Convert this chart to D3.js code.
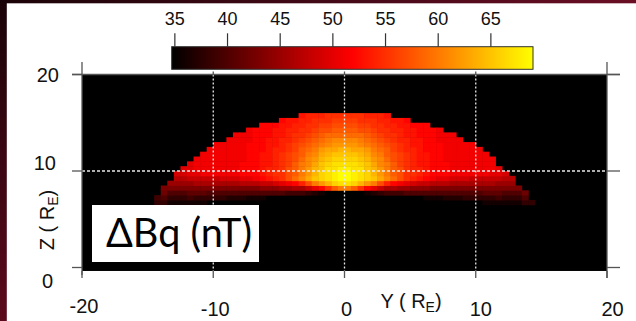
<!DOCTYPE html>
<html><head><meta charset="utf-8">
<script src="https://cdn.jsdelivr.net/npm/d3@7"></script>
<style>html,body{margin:0;padding:0;background:#fff;overflow:hidden}</style>
</head><body>
<svg id="c" width="636" height="321"></svg>
<script>
// ---------------- data ----------------
const colY = [-14.75,-14.25,-13.75,-13.25,-12.75,-12.25,-11.75,-11.25,-10.75,-10.25,-9.75,-9.25,-8.75,-8.25,-7.75,-7.25,-6.75,-6.25,-5.75,-5.25,-4.75,-4.25,-3.75,-3.25,-2.75,-2.25,-1.75,-1.25,-0.75,-0.25,
              0.25,0.75,1.25,1.75,2.25,2.75,3.25,3.75,4.25,4.75,5.25,5.75,6.25,6.75,7.25,7.75,8.25,8.75,9.25,9.75,10.25,10.75,11.25,11.75,12.25,12.75,13.25,13.75,14.25,14.75];
const rowZ = [6.25,6.75,7.25,7.75,8.25,8.75,9.25,9.75,10.25,10.75,11.25,11.75,12.25,12.75,13.25,13.75,14.25,14.75,15.25,15.75];
// ΔBq (nT) per column (bottom row first); 0 = no field (black)
const colValues = [
"",
"0 38 39",
"0 38 40 42 43",
"0 36 38 40 43 45",
"0 36 38 40 43 45 47 49",
"0 36 38 40 43 45 47 49 50",
"0 36 39 41 43 45 48 50 50 50",
"0 36 38 41 43 46 48 50 51 51 51",
"0 36 38 41 43 46 48 51 51 51 51 51",
"0 0 38 40 43 46 48 51 51 51 51 51 51",
"0 0 38 40 43 46 48 51 51 51 51 51 51 51",
"0 0 38 40 43 46 49 51 51 51 51 51 51 51",
"0 0 37 40 43 46 49 51 51 51 51 51 51 51 51",
"0 0 37 40 43 46 49 51 51 51 51 51 51 51 51 51",
"0 0 37 40 43 47 50 52 52 52 51 51 51 51 51 51",
"0 0 36 40 43 47 50 52 52 52 52 52 52 52 51 51 51",
"0 0 36 40 43 47 51 52 52 52 52 52 52 52 52 52 52",
"0 0 36 40 44 48 52 53 53 53 53 53 52 52 52 52 52 52",
"0 0 0 40 44 48 53 54 54 53 53 53 53 53 53 52 52 52",
"0 0 0 40 44 49 54 55 54 54 54 54 54 53 53 53 53 52",
"0 0 0 40 45 50 55 55 55 55 55 55 54 54 54 53 53 53 52",
"0 0 0 39 45 51 57 57 57 56 56 56 55 55 54 54 54 53 53",
"0 0 0 39 46 52 59 58 58 58 57 57 56 56 55 55 54 54 53",
"0 0 0 39 46 54 61 60 60 60 59 58 58 57 56 55 55 54 54 53",
"0 0 0 38 48 57 63 62 62 61 61 60 59 58 57 56 55 55 54 54",
"0 0 0 37 50 60 65 64 64 63 62 61 60 59 58 57 56 55 55 54",
"0 0 0 36 52 62 66 66 65 65 64 63 62 60 59 58 57 56 55 54",
"0 0 0 0 55 64 67 67 67 66 65 64 63 61 60 59 57 56 55 55",
"0 0 0 0 58 66 68 68 67 67 66 65 63 62 61 59 58 57 56 55",
"0 0 0 0 60 67 69 69 68 67 66 65 64 62 61 59 58 57 56 55",
"0 0 0 0 60 67 69 69 68 67 66 65 64 62 61 59 58 57 56 55",
"0 0 0 0 58 66 68 68 67 67 66 65 63 62 61 59 58 57 56 55",
"0 0 0 0 55 64 67 67 67 66 65 64 63 61 60 59 57 56 55 55",
"0 0 0 36 52 62 66 66 65 65 64 63 62 60 59 58 57 56 55 54",
"0 0 0 37 50 60 65 64 64 63 62 61 60 59 58 57 56 55 55 54",
"0 0 0 38 48 57 63 62 62 61 61 60 59 58 57 56 55 55 54 54",
"0 0 0 39 46 54 61 60 60 60 59 58 58 57 56 55 55 54 54 53",
"0 0 0 39 46 52 59 58 58 58 57 57 56 56 55 55 54 54 53",
"0 0 0 39 45 51 57 57 57 56 56 56 55 55 54 54 54 53 53",
"0 0 0 40 45 50 55 55 55 55 55 55 54 54 54 53 53 53 52",
"0 0 0 40 44 49 54 55 54 54 54 54 54 53 53 53 53 52",
"0 0 0 40 44 48 53 54 54 53 53 53 53 53 53 52 52 52",
"0 0 36 40 44 48 52 53 53 53 53 53 52 52 52 52 52 52",
"0 0 36 40 43 47 51 52 52 52 52 52 52 52 52 52 52",
"0 0 36 40 43 47 50 52 52 52 52 52 52 52 51 51 51",
"0 0 37 40 43 47 50 52 52 52 51 51 51 51 51 51",
"0 0 37 40 43 46 49 51 51 51 51 51 51 51 51 51",
"0 0 37 40 43 46 49 51 51 51 51 51 51 51 51",
"0 0 38 40 43 46 49 51 51 51 51 51 51 51",
"0 0 38 40 43 46 48 51 51 51 51 51 51 51",
"0 0 38 40 43 46 48 51 51 51 51 51 51",
"0 36 38 41 43 46 48 51 51 51 51 51",
"0 36 38 41 43 46 48 50 51 51 51",
"0 36 39 41 43 45 48 50 50",
"0 36 38 40 43 45 47 49",
"0 36 38 40 43 45 47",
"0 36 38 40 43",
"0 38 40 42",
"0 38",
""
];
const colorStops = [34.7, 51.8, 69.0];
const colorRange = ["#000000", "#ff0000", "#ffff00"];
const cbTicks = [35, 40, 45, 50, 55, 60, 65];
const xTicks = [-20, -10, 0, 10, 20];
const zTicks = [0, 10, 20];
const gridYs = [-10, 0, 10];
const gridZs = [10];
const imageZMin = -0.36;
const labelText = "ΔBq (nT)";

// ---------------- drawing ----------------
const svg = d3.select("#c");
const defs = svg.append("defs");
const x = d3.scaleLinear().domain([-20, 20]).range([82, 607]);
const z = d3.scaleLinear().domain([0, 20]).range([267.5, 74.5]);
const color = d3.scaleLinear().domain(colorStops).range(colorRange).clamp(true);
const cb = d3.scaleLinear().domain([colorStops[0], colorStops[2]]).range([171.7, 533]);

// decorative frame bands
const g1 = defs.append("linearGradient").attr("id","bandL").attr("x1",0).attr("y1",0).attr("x2",0).attr("y2",1);
g1.append("stop").attr("offset","0").attr("stop-color","#1a0308");
g1.append("stop").attr("offset","1").attr("stop-color","#5c0a1c");
const g2 = defs.append("linearGradient").attr("id","bandT").attr("x1",0).attr("y1",0).attr("x2",1).attr("y2",0);
g2.append("stop").attr("offset","0").attr("stop-color","#1a0308");
g2.append("stop").attr("offset","1").attr("stop-color","#6a0e24");
svg.append("rect").attr("x",0).attr("y",0).attr("width",636).attr("height",3.3).attr("fill","url(#bandT)");
svg.append("rect").attr("x",0).attr("y",0).attr("width",6.8).attr("height",321).attr("fill","url(#bandL)");

// black image background
svg.append("rect").attr("x", x(-20)).attr("y", z(20))
  .attr("width", x(20) - x(-20)).attr("height", z(imageZMin) - z(20)).attr("fill", "#000");

// heatmap cells
const cells = [];
colValues.forEach((s, i) => {
  const vals = s.trim() === "" ? [] : s.trim().split(/\s+/).map(Number);
  vals.forEach((v, j) => { if (v > 0) cells.push({y: colY[i], z: rowZ[j], v}); });
});
svg.append("g").selectAll("rect").data(cells).join("rect")
  .attr("x", d => x(d.y - 0.25))
  .attr("y", d => z(d.z + 0.25))
  .attr("width", d => x(d.y + 0.25) - x(d.y - 0.25) + 0.5)
  .attr("height", d => z(d.z - 0.25) - z(d.z + 0.25) + 0.5)
  .attr("fill", d => color(d.v));

// dotted grid
svg.append("g").selectAll("line").data(gridYs).join("line")
  .attr("x1", d => x(d)).attr("x2", d => x(d))
  .attr("y1", z(20)).attr("y2", z(imageZMin))
  .attr("stroke", "#e8e8e8").attr("stroke-width", 1.3).attr("stroke-dasharray", "2,2");
svg.append("g").selectAll("line").data(gridZs).join("line")
  .attr("x1", x(-20)).attr("x2", x(20))
  .attr("y1", d => z(d)).attr("y2", d => z(d))
  .attr("stroke", "#e8e8e8").attr("stroke-width", 1.3).attr("stroke-dasharray", "3,2");

// frame & ticks
const ax = svg.append("g").attr("stroke", "#555").attr("stroke-width", 1.3);
ax.append("line").attr("x1", x(-20)).attr("x2", x(-20)).attr("y1", 62).attr("y2", 275);
ax.append("line").attr("x1", x(20)).attr("x2", x(20)).attr("y1", 62).attr("y2", 278);
ax.append("line").attr("x1", x(-20) - 10).attr("x2", x(20) + 13).attr("y1", z(20)).attr("y2", z(20));
zTicks.forEach(t => {
  ax.append("line").attr("x1", x(-20) - 10).attr("x2", x(-20)).attr("y1", z(t)).attr("y2", z(t));
  ax.append("line").attr("x1", x(20)).attr("x2", x(20) + 13).attr("y1", z(t)).attr("y2", z(t));
});
xTicks.forEach(t => {
  ax.append("line").attr("x1", x(t)).attr("x2", x(t)).attr("y1", z(imageZMin)).attr("y2", z(imageZMin) + 7);
});
gridYs.forEach(t => {
  ax.append("line").attr("x1", x(t)).attr("x2", x(t)).attr("y1", z(20) - 3).attr("y2", z(20));
});

const font = "'Liberation Sans', Arial, sans-serif";
// z tick labels
const zLab = {20: {dx: -23, dy: 7.5}, 10: {dx: -26, dy: -1}, 0: {dx: -29, dy: 20.5}};
svg.append("g").selectAll("text").data(zTicks).join("text")
  .attr("x", d => x(-20) + zLab[d].dx).attr("y", d => z(d) + zLab[d].dy)
  .attr("text-anchor", "end").attr("font-family", font).attr("font-size", 20).attr("fill", "#111")
  .text(d => d);
// x tick labels
const xLab = {"-20": {dx: 2, dy: 42}, "-10": {dx: 2, dy: 45}, "0": {dx: 2, dy: 45}, "10": {dx: 5, dy: 45}, "20": {dx: 5.5, dy: 45}};
svg.append("g").selectAll("text").data(xTicks).join("text")
  .attr("x", d => x(d) + xLab[d].dx).attr("y", d => z(imageZMin) + xLab[d].dy)
  .attr("text-anchor", "middle").attr("font-family", font).attr("font-size", 20).attr("fill", "#111")
  .text(d => d);

// axis titles
const xt = svg.append("text").attr("x", 411).attr("y", 308).attr("text-anchor", "middle")
  .attr("font-family", font).attr("font-size", 20).attr("fill", "#111");
xt.append("tspan").text("Y ( R");
xt.append("tspan").attr("font-size", 14).attr("dy", 4).text("E");
xt.append("tspan").attr("dy", -4).text(")");
const zt = svg.append("text").attr("transform", "translate(54,220) rotate(-90)").attr("text-anchor", "middle")
  .attr("font-family", font).attr("font-size", 20).attr("fill", "#111");
zt.append("tspan").text("Z ( R");
zt.append("tspan").attr("font-size", 14).attr("dy", 4).text("E");
zt.append("tspan").attr("dy", -4).text(")");

// colour bar
const cg = defs.append("linearGradient").attr("id", "cbg").attr("x1", 0).attr("x2", 1).attr("y1", 0).attr("y2", 0);
const [c0, , c2] = colorStops;
colorStops.forEach((v, i) => cg.append("stop").attr("offset", (v - c0) / (c2 - c0)).attr("stop-color", colorRange[i]));
svg.append("rect").attr("x", cb(c0)).attr("y", 46.7).attr("width", cb(c2) - cb(c0)).attr("height", 22.6)
  .attr("fill", "url(#cbg)").attr("stroke", "#333").attr("stroke-width", 1);
svg.append("g").selectAll("line").data(cbTicks).join("line")
  .attr("x1", d => cb(d)).attr("x2", d => cb(d)).attr("y1", 33.3).attr("y2", 46.7)
  .attr("stroke", "#333").attr("stroke-width", 1.2);
svg.append("g").selectAll("text").data(cbTicks).join("text")
  .attr("x", d => cb(d)).attr("y", 25).attr("text-anchor", "middle")
  .attr("font-family", font).attr("font-size", 18).attr("fill", "#111").text(d => d);

// label box
svg.append("rect").attr("x", 92).attr("y", 205).attr("width", 167).attr("height", 57).attr("fill", "#fff");
const lt = svg.append("text").attr("x", 106).attr("y", 247)
  .attr("font-family", "Lato, 'Open Sans', sans-serif").attr("font-size", 32).attr("fill", "#000").text(labelText);
const w = lt.node().getComputedTextLength();
if (w > 0) lt.attr("font-size", 32 * 146 / w);
</script>
</body></html>
